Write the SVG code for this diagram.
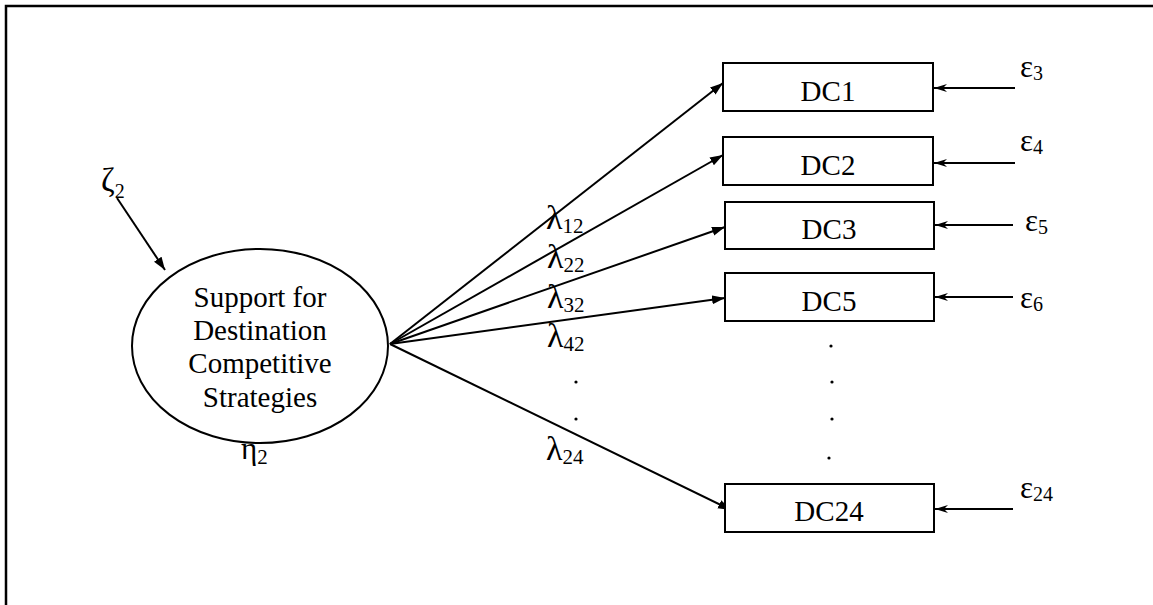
<svg xmlns="http://www.w3.org/2000/svg" width="1153" height="605" viewBox="0 0 1153 605">
  <style>
    .t { font-family: "Liberation Serif", "Times New Roman", serif; fill: #000; }
    .lbl { font-size: 29px; text-anchor: middle; }
    .lam { font-size: 34px; }
    .sub { font-size: 21px; }
    .eps { font-size: 31px; }
    .esub { font-size: 20px; }
    .box { fill: #fff; stroke: #000; stroke-width: 2; }
    .ln { stroke: #000; stroke-width: 2; fill: none; }
  </style>
  <defs>
    <marker id="tri" markerUnits="userSpaceOnUse" markerWidth="14" markerHeight="10" refX="13" refY="5" orient="auto">
      <path d="M0,0.5 L13,5 L0,9.5 z" fill="#000"/>
    </marker>
    <marker id="stealth" markerUnits="userSpaceOnUse" markerWidth="14" markerHeight="10" refX="13" refY="5" orient="auto">
      <path d="M0,1 L13,5 L0,9 L4,5 z" fill="#000"/>
    </marker>
  </defs>

  <rect width="1153" height="605" fill="#fff"/>
  <!-- outer frame -->
  <path d="M6,605 L6,6 L1153,6" fill="none" stroke="#000" stroke-width="2.5"/>

  <!-- connectors -->
  <g id="connectors">
    <line class="ln" x1="117" y1="198" x2="165" y2="270" marker-end="url(#tri)"/>
    <line class="ln" x1="390" y1="344" x2="723" y2="83" marker-end="url(#tri)"/>
    <line class="ln" x1="390" y1="344" x2="723" y2="155" marker-end="url(#tri)"/>
    <line class="ln" x1="390" y1="344" x2="725" y2="227" marker-end="url(#tri)"/>
    <line class="ln" x1="390" y1="344" x2="725" y2="298" marker-end="url(#tri)"/>
    <line class="ln" x1="390" y1="344" x2="731" y2="510" marker-end="url(#tri)"/>
    <line class="ln" x1="1015" y1="88" x2="934" y2="88" marker-end="url(#stealth)"/>
    <line class="ln" x1="1015" y1="163" x2="934" y2="163" marker-end="url(#stealth)"/>
    <line class="ln" x1="1013" y1="225" x2="935" y2="225" marker-end="url(#stealth)"/>
    <line class="ln" x1="1013" y1="297" x2="935" y2="297" marker-end="url(#stealth)"/>
    <line class="ln" x1="1013" y1="509" x2="935" y2="509" marker-end="url(#stealth)"/>
  </g>

  <!-- loading labels -->
  <g id="loadings" class="t">
    <text x="546" y="229"><tspan class="lam">λ</tspan><tspan class="sub" dy="4">12</tspan></text>
    <text x="547" y="268"><tspan class="lam">λ</tspan><tspan class="sub" dy="4">22</tspan></text>
    <text x="547" y="308"><tspan class="lam">λ</tspan><tspan class="sub" dy="4">32</tspan></text>
    <text x="547" y="347"><tspan class="lam">λ</tspan><tspan class="sub" dy="4">42</tspan></text>
    <circle cx="576" cy="382" r="1.6" fill="#000"/>
    <circle cx="576" cy="419" r="1.6" fill="#000"/>
    <text x="546" y="460"><tspan class="lam">λ</tspan><tspan class="sub" dy="4">24</tspan></text>
  </g>

  <!-- latent construct -->
  <g id="eta2">
    <ellipse cx="260" cy="346" rx="128" ry="97" fill="#fff" stroke="#000" stroke-width="2"/>
    <text class="t lbl" x="260" y="307">Support for</text>
    <text class="t lbl" x="260" y="340">Destination</text>
    <text class="t lbl" x="260" y="373">Competitive</text>
    <text class="t lbl" x="260" y="407">Strategies</text>
    <text class="t" x="241" y="459"><tspan font-size="31">η</tspan><tspan class="sub" dy="5">2</tspan></text>
  </g>

  <g id="zeta2" class="t">
    <text x="101" y="191"><tspan font-size="33">ζ</tspan><tspan class="esub" dy="7">2</tspan></text>
  </g>

  <!-- indicators -->
  <g id="dc1">
    <rect class="box" x="723" y="63" width="210" height="48"/>
    <text class="t lbl" x="828" y="101">DC1</text>
  </g>
  <g id="dc2">
    <rect class="box" x="723" y="137" width="210" height="48"/>
    <text class="t lbl" x="828" y="175">DC2</text>
  </g>
  <g id="dc3">
    <rect class="box" x="725" y="202" width="209" height="47"/>
    <text class="t lbl" x="829" y="239">DC3</text>
  </g>
  <g id="dc5">
    <rect class="box" x="725" y="273" width="209" height="48"/>
    <text class="t lbl" x="829" y="311">DC5</text>
  </g>
  <g id="ellipsis">
    <circle cx="831" cy="346" r="1.6" fill="#000"/>
    <circle cx="832" cy="382" r="1.6" fill="#000"/>
    <circle cx="832" cy="419" r="1.6" fill="#000"/>
    <circle cx="829" cy="458" r="1.6" fill="#000"/>
  </g>
  <g id="dc24">
    <rect class="box" x="725" y="484" width="209" height="48"/>
    <text class="t lbl" x="829" y="521">DC24</text>
  </g>

  <!-- error terms -->
  <g id="errors" class="t">
    <text x="1020" y="77"><tspan class="eps">ε</tspan><tspan class="esub" dy="3">3</tspan></text>
    <text x="1020" y="151"><tspan class="eps">ε</tspan><tspan class="esub" dy="3">4</tspan></text>
    <text x="1025" y="231"><tspan class="eps">ε</tspan><tspan class="esub" dy="3">5</tspan></text>
    <text x="1020" y="308"><tspan class="eps">ε</tspan><tspan class="esub" dy="3">6</tspan></text>
    <text x="1020" y="498"><tspan class="eps">ε</tspan><tspan class="esub" dy="3">24</tspan></text>
  </g>
</svg>
